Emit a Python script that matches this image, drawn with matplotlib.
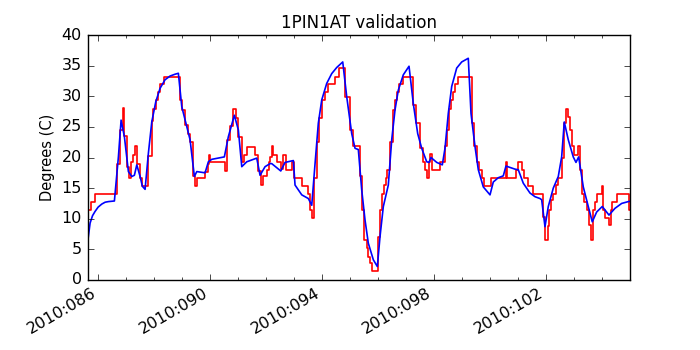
import matplotlib
matplotlib.use("Agg")
import matplotlib.pyplot as plt
from matplotlib.ticker import FixedLocator, MultipleLocator, FuncFormatter

plt.style.use("classic")

title = "1PIN1AT validation"
ylabel = "Degrees (C)"
major_days = [86, 90, 94, 98, 102]

# Model (blue) - day of year, degrees C
model_day = [85.62, 85.713, 85.80, 85.891, 86.00, 86.131, 86.25, 86.366, 86.581,
             86.724, 86.82, 86.938, 87.081, 87.202, 87.295, 87.381, 87.499, 87.581,
             87.677, 87.795, 87.916, 88.059, 88.213, 88.391, 88.57, 88.749, 88.866,
             88.988, 89.284, 89.438, 89.524, 89.82, 89.938, 90.059, 90.509, 90.652,
             90.866, 91.009, 91.131, 91.309, 91.666, 91.784, 91.963, 92.141, 92.202,
             92.524, 92.677, 92.974, 93.034, 93.274, 93.509, 93.631, 93.749, 93.866,
             93.988, 94.166, 94.345, 94.524, 94.738, 94.881, 95.059, 95.177, 95.295,
             95.416, 95.534, 95.652, 95.831, 95.974, 96.07, 96.188, 96.366, 96.488,
             96.606, 96.723, 96.902, 97.106, 97.259, 97.416, 97.559, 97.738, 97.82,
             97.891, 98.095, 98.295, 98.391, 98.509, 98.631, 98.809, 98.988, 99.223,
             99.32, 99.463, 99.581, 99.759, 99.999, 100.116, 100.295, 100.473, 100.57,
             100.891, 101.009, 101.188, 101.427, 101.606, 101.784, 101.845, 101.963,
             102.081, 102.259, 102.438, 102.559, 102.652, 102.795, 102.973, 103.07,
             103.166, 103.331, 103.509, 103.652, 103.809, 104.009, 104.249, 104.463,
             104.702, 104.938, 105.0]
model_temp = [6.0, 9.3, 10.5, 11.2, 11.9, 12.4, 12.7, 12.8, 12.9,
              20.1, 26.1, 23.4, 17.7, 16.9, 17.1, 18.8, 16.9, 15.3,
              14.8, 20.7, 25.8, 29.1, 31.3, 32.7, 33.3, 33.6, 33.75,
              28.3, 22.9, 16.9, 17.7, 17.5, 19.3, 19.7, 20.1, 23.4,
              26.9, 24.5, 18.5, 19.3, 19.9, 17.1, 18.5, 19.0, 19.0,
              17.8, 19.2, 19.5, 15.5, 13.9, 13.3, 12.2, 19.0, 25.6,
              29.4, 32.1, 33.7, 34.7, 35.6, 29.9, 23.9, 21.5, 21.3,
              14.7, 9.8, 6.0, 3.3, 2.2, 7.1, 12.0, 15.5, 22.9,
              27.8, 31.0, 33.5, 34.9, 28.8, 23.9, 21.5, 19.3, 19.2,
              20.0, 19.2, 18.8, 21.5, 27.2, 31.6, 34.6, 35.6, 36.2,
              27.2, 21.8, 18.0, 15.2, 13.9, 16.0, 16.7, 17.0, 18.6,
              18.1, 18.0, 15.8, 14.2, 13.6, 13.3, 13.1, 8.7,
              12.0, 15.0, 16.9, 20.1, 25.8, 22.9, 20.1, 19.2,
              20.1, 15.2, 12.0, 9.5, 11.1, 12.0, 10.6, 11.7,
              12.5, 12.8, 12.85]

# Telemetry (red) - step values
tlm_day = [85.62, 85.652, 85.749, 85.891, 86.666, 86.784, 86.881, 86.938, 87.024,
           87.106, 87.166, 87.259, 87.32, 87.381, 87.499, 87.581, 87.795, 87.916,
           87.974, 88.059, 88.131, 88.213, 88.366, 88.927, 89.009, 89.106, 89.202,
           89.284, 89.402, 89.463, 89.524, 89.82, 89.938, 89.974, 89.999, 90.534,
           90.595, 90.713, 90.831, 90.916, 91.009, 91.131, 91.213, 91.309, 91.606,
           91.724, 91.82, 91.902, 92.024, 92.116, 92.141, 92.202, 92.259, 92.381,
           92.534, 92.616, 92.702, 92.916, 93.009, 93.274, 93.509, 93.57, 93.631,
           93.723, 93.809, 93.902, 93.988, 94.106, 94.223, 94.463, 94.606, 94.82,
           94.999, 95.116, 95.338, 95.438, 95.509, 95.595, 95.652, 95.713, 95.774,
           96.009, 96.07, 96.131, 96.223, 96.273, 96.309, 96.427, 96.545, 96.606,
           96.666, 96.749, 96.902, 97.259, 97.345, 97.499, 97.616, 97.677, 97.738,
           97.82, 97.866, 97.938, 98.213, 98.391, 98.452, 98.52, 98.591, 98.687,
           98.749, 98.866, 99.366, 99.438, 99.523, 99.605, 99.702, 99.785, 100.025,
           100.56, 100.607, 100.927, 101.009, 101.152, 101.223, 101.345, 101.545,
           101.902, 101.963, 102.059, 102.106, 102.177, 102.259, 102.356, 102.416,
           102.559, 102.652, 102.713, 102.773, 102.856, 102.938, 103.009, 103.152,
           103.213, 103.273, 103.366, 103.452, 103.534, 103.605, 103.687, 103.749,
           103.809, 103.988, 104.024, 104.106, 104.249, 104.32, 104.366, 104.523,
           104.96, 105.0]
tlm_temp = [9.8, 11.4, 12.8, 14.0, 19.0, 24.5, 28.1, 23.5, 18.5,
            16.6, 19.2, 20.4, 21.8, 19.0, 16.6, 15.3, 20.2, 26.0,
            28.0, 29.4, 30.7, 32.0, 33.2, 29.4, 27.8, 25.3, 23.9,
            22.6, 16.9, 15.3, 16.6, 17.6, 19.0, 20.4, 19.2, 17.8,
            22.9, 25.2, 28.0, 26.4, 23.4, 19.2, 20.4, 21.7, 20.4,
            17.8, 15.5, 16.9, 18.0, 19.2, 20.1, 21.8, 20.4, 19.2,
            18.1, 20.4, 18.0, 19.2, 16.6, 15.3, 14.0, 11.4, 10.2,
            16.6, 22.6, 26.4, 29.4, 30.7, 32.0, 33.2, 34.6, 29.9,
            24.5, 21.8, 16.9, 11.4, 6.5, 5.2, 3.8, 2.7, 1.5,
            7.0, 11.4, 14.1, 15.5, 16.6, 18.0, 22.6, 27.8, 29.4,
            30.7, 32.0, 33.2, 28.5, 25.6, 21.5, 19.3, 18.0, 16.6,
            19.2, 20.6, 18.0, 19.2, 21.8, 24.5, 28.0, 29.4, 30.7,
            32.0, 33.2, 25.6, 21.8, 19.2, 18.0, 16.6, 15.3, 16.6,
            19.2, 16.6, 18.0, 19.2, 18.0, 16.6, 15.3, 14.0,
            10.3, 6.5, 8.8, 11.4, 13.1, 14.1, 15.5, 16.6,
            20.0, 25.6, 28.0, 26.6, 24.5, 21.8, 20.4, 21.8,
            18.0, 14.1, 12.8, 11.4, 9.0, 6.5, 11.4, 12.8,
            14.0, 15.3, 11.4, 10.2, 9.0, 11.4, 12.8, 14.0,
            11.4, 11.4]

fig = plt.figure(figsize=(7, 3.5), dpi=100)
fig.patch.set_facecolor("white")
ax = fig.add_subplot(111)
ax.plot(tlm_day, tlm_temp, color="red", lw=1.2, drawstyle="steps-post")
ax.plot(model_day, model_temp, color="blue", lw=1.2)

ax.set_xlim(85.62, 105.0)
ax.set_ylim(0, 40)
ax.xaxis.set_major_locator(FixedLocator(major_days))
ax.xaxis.set_minor_locator(MultipleLocator(1))
ax.xaxis.set_major_formatter(FuncFormatter(lambda v, p: "2010:%03d" % int(round(v))))
ax.set_title(title, fontsize=12)
ax.set_ylabel(ylabel, fontsize=10.5)
ax.tick_params(labelsize=11.5)
fig.subplots_adjust(left=0.125, right=0.9, top=0.9, bottom=0.2)
for lab in ax.get_xticklabels():
    lab.set_rotation(30)
    lab.set_ha("right")
fig.savefig("out.png", dpi=100, facecolor="white")
